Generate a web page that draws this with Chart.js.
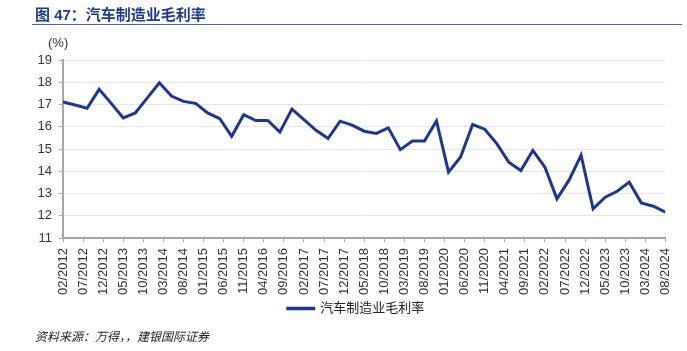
<!DOCTYPE html>
<html>
<head>
<meta charset="utf-8">
<script src="https://cdn.jsdelivr.net/npm/chart.js@4"></script>
<style>
  html, body { margin: 0; padding: 0; background: #fff; }
  #wrap { position: relative; width: 687px; height: 351px; overflow: hidden; }
  #chart { position: absolute; left: 0; top: 0; }
  .title { position: absolute; left: 35px; top: 3px; font: bold 15px "Liberation Sans", "Noto Sans CJK SC", sans-serif; color: #1f3a8a; }
  .rule { position: absolute; left: 32px; top: 24px; width: 650px; height: 1px; border-top: 1.5px solid #4f62ad; }
  .unit { position: absolute; left: 48px; top: 35px; font: 13px "Liberation Sans", sans-serif; color: #333; }
  .source { position: absolute; left: 35px; top: 327px; font: italic 12px "Noto Sans CJK SC", sans-serif; color: #222; }
</style>
</head>
<body>
<div id="wrap">
  <canvas id="chart" width="687" height="351"></canvas>
  <div class="title">图 47：汽车制造业毛利率</div>
  <div class="rule"></div>
  <div class="unit">(%)</div>
  <div class="source">资料来源：万得，，建银国际证券</div>
</div>
<script>
// --- data ---
const dates = [
  '02/2012', '05/2012', '08/2012', '11/2012', '02/2013', '05/2013', '08/2013', '11/2013',
  '02/2014', '05/2014', '08/2014', '11/2014', '02/2015', '05/2015', '08/2015', '11/2015',
  '02/2016', '05/2016', '08/2016', '11/2016', '02/2017', '05/2017', '08/2017', '11/2017',
  '02/2018', '05/2018', '08/2018', '11/2018', '02/2019', '05/2019', '08/2019', '11/2019',
  '02/2020', '05/2020', '08/2020', '11/2020', '02/2021', '05/2021', '08/2021', '11/2021',
  '02/2022', '05/2022', '08/2022', '11/2022', '02/2023', '05/2023', '08/2023', '11/2023',
  '02/2024', '05/2024', '08/2024'
];
const margin = [
  17.12, 16.98, 16.83, 17.68, 17.05, 16.40, 16.62, 17.30,
  17.98, 17.38, 17.14, 17.05, 16.62, 16.37, 15.57, 16.54,
  16.28, 16.28, 15.76, 16.79, 16.32, 15.84, 15.47, 16.25,
  16.07, 15.80, 15.70, 15.95, 14.97, 15.36, 15.36, 16.26,
  13.96, 14.64, 16.10, 15.89, 15.24, 14.41, 14.03, 14.93,
  14.18, 12.76, 13.60, 14.72, 12.31, 12.83, 13.10, 13.51,
  12.58, 12.43, 12.16
];
const tickLabels = [
  '02/2012', '07/2012', '12/2012', '05/2013', '10/2013', '03/2014', '08/2014', '01/2015',
  '06/2015', '11/2015', '04/2016', '09/2016', '02/2017', '07/2017', '12/2017', '05/2018',
  '10/2018', '03/2019', '08/2019', '01/2020', '06/2020', '11/2020', '04/2021', '09/2021',
  '02/2022', '07/2022', '12/2022', '05/2023', '10/2023', '03/2024', '08/2024'
];
const seriesName = '汽车制造业毛利率';
const yMin = 11, yMax = 19;

// months counted from the first label
function monthIndex(s) {
  const p = s.split('/');
  const first = tickLabels[0].split('/');
  return (+p[1] - +first[1]) * 12 + (+p[0] - +first[0]);
}

const lineColor = '#1d3692';
const axisColor = '#a6a6a6';
const font = "'Liberation Sans', 'Noto Sans CJK SC', sans-serif";

// nudge the legend right so it sits where the reference has it
const legendShift = {
  id: 'legendShift',
  afterLayout(chart) {
    chart.legend.left += 20;
    chart.legend.right += 20;
  }
};

new Chart(document.getElementById('chart'), {
  type: 'line',
  data: {
    datasets: [{
      label: seriesName,
      data: dates.map((d, i) => ({ x: monthIndex(d), y: margin[i] })),
      borderColor: lineColor,
      backgroundColor: lineColor,
      borderWidth: 3,
      pointRadius: 0,
      tension: 0
    }]
  },
  plugins: [legendShift],
  options: {
    responsive: false,
    animation: false,
    layout: { padding: { top: 60, left: 0, right: 15, bottom: 26 } },
    plugins: {
      legend: {
        position: 'bottom',
        labels: {
          boxWidth: 26,
          boxHeight: 0.5,
          padding: 4,
          color: '#222',
          font: { family: font, size: 13 }
        }
      },
      tooltip: { enabled: false }
    },
    scales: {
      x: {
        type: 'linear',
        min: monthIndex(tickLabels[0]),
        max: monthIndex(tickLabels[tickLabels.length - 1]),
        afterBuildTicks: function(scale) {
          scale.ticks = tickLabels.map(l => ({ value: monthIndex(l) }));
        },
        afterFit: function(scale) { scale.height = 60; },
        border: { color: axisColor, width: 2 },
        grid: { drawOnChartArea: false, drawTicks: true, tickLength: 4, color: axisColor },
        ticks: {
          autoSkip: false,
          minRotation: 90,
          maxRotation: 90,
          padding: 6,
          color: '#333',
          font: { family: font, size: 13 },
          callback: function(value) {
            const l = tickLabels.find(t => monthIndex(t) === value);
            return l || '';
          }
        }
      },
      y: {
        min: yMin,
        max: yMax,
        afterFit: function(scale) { scale.width = 63; },
        border: { color: axisColor, width: 2 },
        grid: { color: '#e6e6e6', lineWidth: 1, tickColor: axisColor, tickLength: 4 },
        ticks: {
          stepSize: 1,
          padding: 7,
          color: '#333',
          font: { family: font, size: 13 }
        }
      }
    }
  }
});
</script>
</body>
</html>
